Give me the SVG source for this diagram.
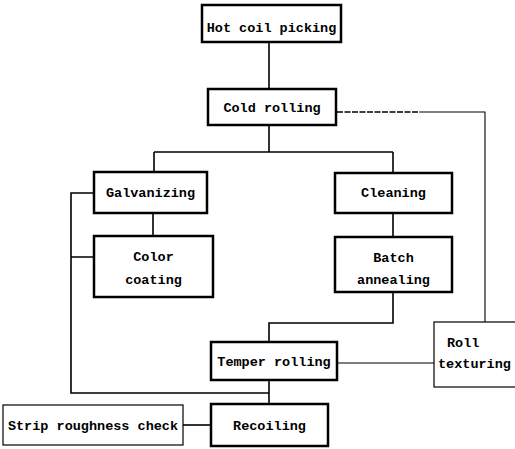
<svg xmlns="http://www.w3.org/2000/svg" width="515" height="449" viewBox="0 0 515 449">
<style>
.box{fill:#fff;stroke:#000;stroke-width:2.5}
.thin{fill:#fff;stroke:#000;stroke-width:1.2}
.t{font-family:"Liberation Mono","DejaVu Sans Mono",monospace;font-weight:bold;font-size:13.5px;fill:#000;text-anchor:middle;dominant-baseline:central}
.c{fill:none;stroke:#000;stroke-width:1.6}
.d{fill:none;stroke:#000;stroke-width:1.1}
.dash{fill:none;stroke:#000;stroke-width:1.3;stroke-dasharray:6 1.5}
</style>
<rect width="515" height="449" fill="#fff"/>
<g id="connectors">
<path class="c" d="M269,42 V89"/>
<path class="c" d="M269,125 V152 M154,152 H393 M154,152 V172 M393,152 V173"/>
<path class="c" d="M153,213 V236"/>
<path class="c" d="M393,213 V237"/>
<path class="c" d="M393,292 V323 H269 V342"/>
<path class="c" d="M94,193 H71 V393 H269 M71,257 H94"/>
<path class="c" d="M269,380 V404"/>
<path class="c" d="M183,425 H211"/>
<path class="dash" d="M337,112 H420"/>
<path class="d" d="M420,112 H485 V322"/>
<path class="d" d="M337,363 H434"/>
</g>
<g id="hot-coil"><rect class="box" x="202" y="5" width="139" height="37"/><text class="t" x="271.5" y="28">Hot coil picking</text></g>
<g id="cold-rolling"><rect class="box" x="208" y="89" width="128" height="36"/><text class="t" x="272" y="108">Cold rolling</text></g>
<g id="galvanizing"><rect class="box" x="94" y="172" width="113" height="41"/><text class="t" x="150.5" y="193">Galvanizing</text></g>
<g id="color-coating"><rect class="box" x="94" y="236" width="119" height="61"/><text class="t" x="153.5" y="257">Color</text><text class="t" x="153.5" y="280">coating</text></g>
<g id="cleaning"><rect class="box" x="335" y="173" width="117" height="40"/><text class="t" x="393.5" y="193">Cleaning</text></g>
<g id="batch-annealing"><rect class="box" x="335" y="237" width="117" height="55"/><text class="t" x="393.5" y="258">Batch</text><text class="t" x="393.5" y="280">annealing</text></g>
<g id="temper-rolling"><rect class="box" x="211" y="342" width="126" height="38"/><text class="t" x="274" y="362">Temper rolling</text></g>
<g id="recoiling"><rect class="box" x="211" y="404" width="117" height="42"/><text class="t" x="269.5" y="426">Recoiling</text></g>
<g id="strip-roughness"><rect class="thin" x="3" y="405" width="180" height="40"/><text class="t" x="93" y="426">Strip roughness check</text></g>
<g id="roll-texturing"><rect class="thin" x="434" y="322" width="90" height="65"/><text class="t" x="447" y="343" style="text-anchor:start">Roll</text><text class="t" x="438" y="364" style="text-anchor:start">texturing</text></g>
</svg>
